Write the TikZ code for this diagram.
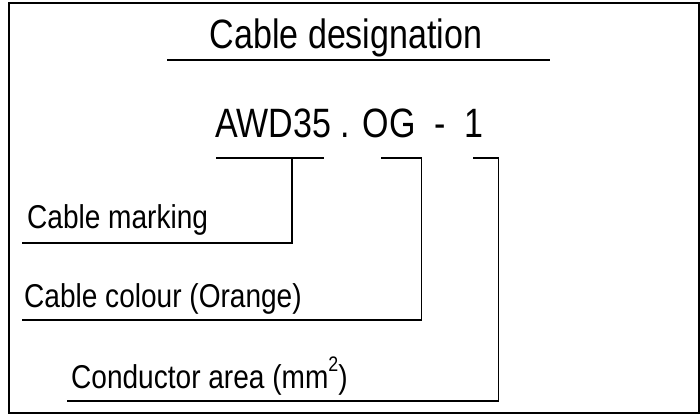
\documentclass[tikz,border=0pt]{standalone}
\usepackage{fontspec}
\setmainfont{Liberation Sans}
\newfontfamily\narrowbig{Liberation Sans}[FakeStretch=0.83]
\newfontfamily\narrowsmall{Liberation Sans}[FakeStretch=0.85]
\tikzset{
  bigtext/.style={inner sep=0pt, font=\narrowbig\fontsize{41}{44}\selectfont},
  labeltext/.style={inner sep=0pt, anchor=base west, font=\narrowsmall\fontsize{33}{36}\selectfont},
  rule/.style={line width=1.5pt},
}

\begin{document}
\begin{tikzpicture}[x=1pt, y=-1pt]
	%%%%% START %%%%%
	\useasboundingbox (0,0) rectangle (700,416);
	\draw[rule] (9,3) rectangle (699,413);
	
	\node[bigtext, anchor=base] (title) at (346,48) {Cable designation};
	\draw[line width=1.8pt] (167,60) -- (550,60);
	
	\node[bigtext, anchor=base west] (code) at (215,137) {AWD35 . OG \ - \ 1};
	
	% underlines below the code
	\coordinate (awdL) at (216,158);
	\coordinate (awdR) at (324,158);
	\coordinate (awdT) at (292,158);
	\coordinate (ogL) at (381,158);
	\coordinate (ogT) at (421.5,158);
	\coordinate (oneL) at (473,158);
	\coordinate (oneT) at (498.5,158);
	\draw[rule] (awdL) -- (awdR);
	\draw[rule] (ogL) -- (ogT);
	\draw[rule] (oneL) -- (oneT);
	
	% labels
	\node[labeltext] (marking) at (27,228) {Cable marking};
	\node[labeltext] (colour) at (24,307) {Cable colour (Orange)};
	\node[labeltext] (area) at (71,388) {Conductor area (mm\raisebox{0.95ex}{\fontsize{21}{22}\selectfont 2})};
	
	\coordinate (markingS) at (22,243);
	\coordinate (colourS) at (22,320);
	\coordinate (areaS) at (67,401);
	\draw[rule] (markingS) -- (awdT |- markingS) -- (awdT);
	\draw[rule] (colourS) -- (ogT |- colourS) -- (ogT);
	\draw[rule] (areaS) -- (oneT |- areaS) -- (oneT);
	%%%%% END %%%%%
\end{tikzpicture}
\end{document}
